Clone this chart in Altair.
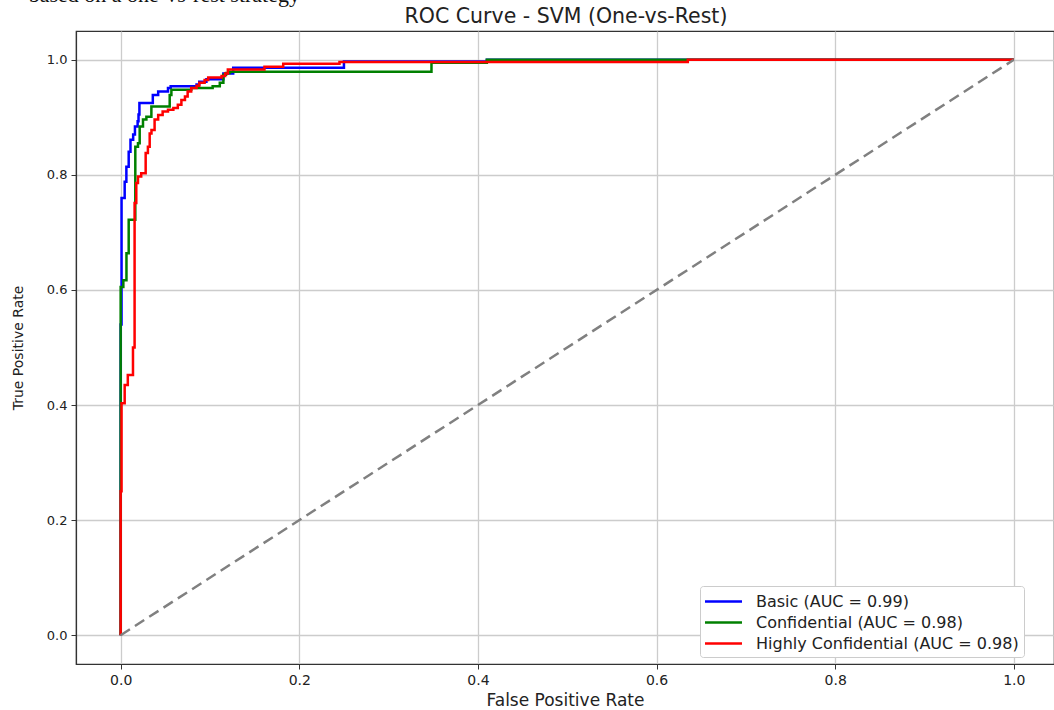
import altair as alt
import pandas as pd

# ROC curves of an SVM classifier, one-vs-rest, one curve per sensitivity class
classes = ["Basic", "Confidential", "Highly Confidential"]
auc_values = [0.99, 0.98, 0.98]
line_colors = ["#0000ff", "#008000", "#ff0000"]

# Corner points: at each fpr the tpr rises to the listed value
basic_fpr = [0.0, 0.0, 0.001, 0.0045, 0.0064, 0.009, 0.011, 0.014, 0.016, 0.019, 0.020,
             0.021, 0.036, 0.042, 0.053, 0.056, 0.085, 0.088, 0.096, 0.115, 0.126, 0.25, 0.41, 1.0]
basic_tpr = [0.0, 0.54, 0.76, 0.788, 0.814, 0.84, 0.861, 0.87, 0.884, 0.893, 0.905,
             0.925, 0.939, 0.945, 0.951, 0.954, 0.957, 0.962, 0.966, 0.976, 0.986, 0.997, 1.0, 1.0]

conf_fpr = [0.0, 0.0, 0.003, 0.0065, 0.009, 0.0164, 0.0194, 0.0213, 0.025, 0.0288, 0.0344,
            0.0549, 0.0568, 0.079, 0.103, 0.111, 0.115, 0.118, 0.122, 0.348, 0.41, 1.0]
conf_tpr = [0.0, 0.605, 0.617, 0.664, 0.722, 0.849, 0.855, 0.884, 0.896, 0.901, 0.919,
            0.939, 0.948, 0.951, 0.954, 0.96, 0.974, 0.977, 0.979, 0.995, 1.0, 1.0]

high_fpr = [0.0, 0.0, 0.001, 0.0045, 0.008, 0.0138, 0.0156, 0.0175, 0.0194, 0.023, 0.028,
            0.0305, 0.0325, 0.0345, 0.038, 0.042, 0.047, 0.053, 0.059, 0.064, 0.068, 0.072,
            0.075, 0.079, 0.085, 0.088, 0.094, 0.098, 0.113, 0.117, 0.12, 0.161, 0.182,
            0.245, 0.635, 1.0]
high_tpr = [0.0, 0.25, 0.403, 0.435, 0.452, 0.5, 0.751, 0.786, 0.797, 0.803, 0.838,
            0.849, 0.872, 0.878, 0.896, 0.904, 0.91, 0.913, 0.916, 0.922, 0.93, 0.936,
            0.945, 0.951, 0.955, 0.96, 0.965, 0.969, 0.972, 0.976, 0.983, 0.988, 0.993,
            0.996, 1.0, 1.0]

chance_fpr = [0.0, 1.0]
chance_tpr = [0.0, 1.0]

tick_values = [0.0, 0.2, 0.4, 0.6, 0.8, 1.0]

chart_title = "ROC Curve - SVM (One-vs-Rest)"
caption_text = "based on a one-vs-rest strategy"

labels = [f"{c} (AUC = {a:.2f})" for c, a in zip(classes, auc_values)]
rows = []
for k, (fprs, tprs) in enumerate([(basic_fpr, basic_tpr), (conf_fpr, conf_tpr), (high_fpr, high_tpr)]):
    for j, (f, t) in enumerate(zip(fprs, tprs)):
        rows.append({"series": labels[k], "idx": j, "fpr": f, "tpr": t})
roc = pd.DataFrame(rows)
chance = pd.DataFrame({"fpr": chance_fpr, "tpr": chance_tpr})

x_scale = alt.Scale(domain=[-0.05, 1.045], nice=False, zero=False)
y_scale = alt.Scale(domain=[-0.05, 1.05], nice=False, zero=False)

x_enc = alt.X("fpr:Q", scale=x_scale,
              axis=alt.Axis(values=tick_values, format=".1f", title="False Positive Rate",
                            labelFontSize=14, titleFontSize=17))
y_enc = alt.Y("tpr:Q", scale=y_scale,
              axis=alt.Axis(values=tick_values, format=".1f", title="True Positive Rate",
                            labelFontSize=13, titleFontSize=14))

curves = alt.Chart(roc).mark_line(interpolate="step-after", strokeWidth=2.5, clip=True).encode(
    x=x_enc,
    y=y_enc,
    order="idx:Q",
    color=alt.Color(
        "series:N",
        scale=alt.Scale(domain=labels, range=line_colors),
        legend=alt.Legend(
            title=None, orient="none", legendX=624, legendY=555,
            # short horizontal stroke as the legend key
            symbolType="M-2,0H2", symbolSize=342, symbolStrokeWidth=2.5,
            symbolOffset=8, labelOffset=22,
            labelFont="DejaVu Sans", labelFontSize=16, labelColor="#222222",
            labelLimit=0, rowPadding=2, padding=5,
            fillColor="white", strokeColor="#cccccc", cornerRadius=3,
        ),
    ),
)

diagonal = alt.Chart(chance).mark_line(
    color="#808080", strokeWidth=2.5, strokeDash=[11, 6], clip=True
).encode(x="fpr:Q", y="tpr:Q")

title_mark = alt.Chart(pd.DataFrame({"t": [chart_title]})).mark_text(
    align="center", baseline="middle", font="DejaVu Sans", fontSize=20.5, color="#222222"
).encode(x=alt.value(490), y=alt.value(-14), text="t:N")

caption = alt.Chart(pd.DataFrame({"t": [caption_text]})).mark_text(
    align="right", baseline="alphabetic", font="Liberation Serif", fontSize=22, color="#111111"
).encode(x=alt.value(224), y=alt.value(-29), text="t:N")

chart = alt.layer(curves, diagonal, title_mark, caption).properties(
    width=978,
    height=633,
    autosize=alt.AutoSizeParams(type="none"),
    padding={"left": 76, "top": 31, "right": 0, "bottom": 46},
).configure_view(
    stroke="#333333", strokeWidth=1.2
).configure_axis(
    labelFont="DejaVu Sans", titleFont="DejaVu Sans",
    titleFontWeight="normal",
    labelColor="#222222", titleColor="#222222",
    domainColor="#333333", domainWidth=1.2, tickColor="#333333", tickSize=5,
    gridColor="#cccccc", gridWidth=1.3, labelPadding=4,
).configure_axisX(titlePadding=5).configure_axisY(titlePadding=21)

chart.save("out.html", embed_options={"renderer": "svg", "actions": False})
